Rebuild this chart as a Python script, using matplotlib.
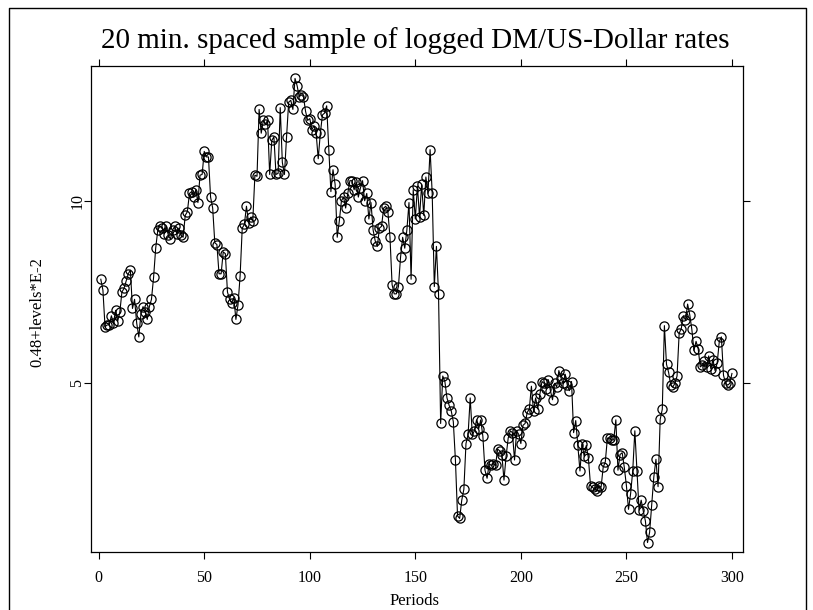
import matplotlib
matplotlib.use("Agg")
import matplotlib.pyplot as plt
from matplotlib.lines import Line2D

title = "20 min. spaced sample of logged DM/US-Dollar rates"
xlabel = "Periods"
ylabel = "0.48+levels*E-2"
xticks = [0, 50, 100, 150, 200, 250, 300]
yticks = [5, 10]

values = [
    7.85, 7.55, 6.55, 6.6, 6.6, 6.85, 6.65, 7.0, 6.7, 6.95,
    7.5, 7.6, 7.8, 8.0, 8.1, 7.05, 7.3, 6.65, 6.27, 6.9,
    7.1, 6.95, 6.75, 7.1, 7.3, 7.9, 8.7, 9.2, 9.3, 9.25,
    9.1, 9.3, 9.05, 8.95, 9.2, 9.3, 9.1, 9.25, 9.05, 9.0,
    9.6, 9.7, 10.2, 10.25, 10.1, 10.3, 9.95, 10.7, 10.72, 11.35,
    11.2, 11.2, 10.1, 9.8, 8.85, 8.8, 8.0, 8.0, 8.6, 8.55,
    7.5, 7.3, 7.2, 7.35, 6.75, 7.15, 7.95, 9.25, 9.35, 9.85,
    9.4, 9.55, 9.45, 10.7, 10.67, 12.5, 11.85, 12.2, 12.1, 12.2,
    10.72, 11.65, 11.75, 10.72, 10.75, 12.55, 11.05, 10.72, 11.75, 12.7,
    12.75, 12.5, 13.35, 13.15, 12.85, 12.9, 12.85, 12.45, 12.2, 12.25,
    11.95, 12.05, 11.85, 11.15, 11.85, 12.35, 12.4, 12.6, 11.4, 10.25,
    10.85, 10.45, 9.0, 9.45, 10.0, 10.1, 9.8, 10.2, 10.55, 10.55,
    10.3, 10.5, 10.1, 10.35, 10.55, 10.0, 10.2, 9.5, 9.95, 9.2,
    8.9, 8.75, 9.25, 9.3, 9.8, 9.85, 9.7, 9.0, 7.7, 7.45,
    7.45, 7.65, 8.45, 9.0, 8.7, 9.2, 9.95, 7.85, 10.3, 9.5,
    10.4, 9.55, 10.45, 9.6, 10.65, 10.2, 11.4, 10.2, 7.65, 8.75,
    7.45, 3.9, 5.2, 5.05, 4.6, 4.4, 4.25, 3.95, 2.9, 1.37,
    1.3, 1.8, 2.1, 3.35, 3.6, 4.6, 3.6, 3.7, 4.0, 3.75,
    4.0, 3.55, 2.62, 2.4, 2.8, 2.75, 2.8, 2.75, 3.2, 3.15,
    3.05, 2.35, 3.0, 3.5, 3.7, 3.65, 2.9, 3.7, 3.6, 3.35,
    3.85, 3.9, 4.2, 4.3, 4.92, 4.25, 4.6, 4.3, 4.7, 5.05,
    5.0, 4.85, 5.1, 4.8, 4.55, 5.0, 4.9, 5.35, 5.15, 5.0,
    5.25, 4.95, 4.8, 5.05, 3.65, 3.98, 3.3, 2.6, 3.35, 3.0,
    3.3, 2.95, 2.2, 2.15, 2.1, 2.05, 2.2, 2.15, 2.7, 2.85,
    3.5, 3.5, 3.45, 3.45, 4.0, 2.62, 3.05, 3.1, 2.7, 2.2,
    1.55, 1.98, 2.6, 3.7, 2.6, 1.53, 1.8, 1.5, 1.23, 0.64,
    0.92, 1.68, 2.44, 2.92, 2.17, 4.01, 4.29, 6.58, 5.52, 5.3,
    4.95, 4.9, 5.0, 5.2, 6.37, 6.5, 6.85, 6.73, 7.17, 6.88,
    6.48, 5.9, 6.15, 5.95, 5.45, 5.5, 5.6, 5.45, 5.75, 5.4,
    5.65, 5.35, 5.55, 6.14, 6.27, 5.22, 5.0, 4.95, 5.0, 5.27,
]
periods = list(range(1, len(values) + 1))

plt.rcParams['font.family'] = ['Liberation Serif', 'DejaVu Serif']

W, H = 813, 610
fig = plt.figure(figsize=(W / 100, H / 100), dpi=100)
L, R, T, B = 90.7, 742.7, 66.0, 552.0
ax = fig.add_axes([L / W, 1 - B / H, (R - L) / W, (B - T) / H])

ax.plot(periods, values, color='black', lw=0.8, marker='o', ms=6.6,
        mfc='none', mec='black', mew=0.9)

ax.set_xlim(-3.79, 305.1)
ax.set_ylim(0.381, 13.69)
ax.set_xticks(xticks)
ax.set_yticks(yticks)
ax.set_xticklabels([str(v) for v in xticks], fontsize=11.5)
ax.set_yticklabels([str(v) for v in yticks], fontsize=11.5, rotation=90, va='center')
ax.tick_params(axis='both', direction='out', length=5.2, width=0.8,
               top=True, right=True, labeltop=False, labelright=False)
ax.tick_params(axis='x', pad=8)
ax.tick_params(axis='y', pad=-1.2)
for s in ax.spines.values():
    s.set_linewidth(0.9)

fig.text(415 / W, 1 - 48 / H, title, ha='center', va='baseline', fontsize=21)
fig.text(415 / W, 1 - 601 / H, xlabel, ha='center', va='center', fontsize=12)
fig.text(37.7 / W, 1 - 311.7 / H, ylabel, ha='center', va='center', fontsize=12, rotation=90)

# outer frame (left, top, right)
fx = [9 / W, 9 / W, 806 / W, 806 / W]
fy = [-0.1, 1 - 8 / H, 1 - 8 / H, -0.1]
fig.add_artist(Line2D(fx, fy, transform=fig.transFigure, color='black', lw=1.0))

fig.savefig("out.png", dpi=100)
